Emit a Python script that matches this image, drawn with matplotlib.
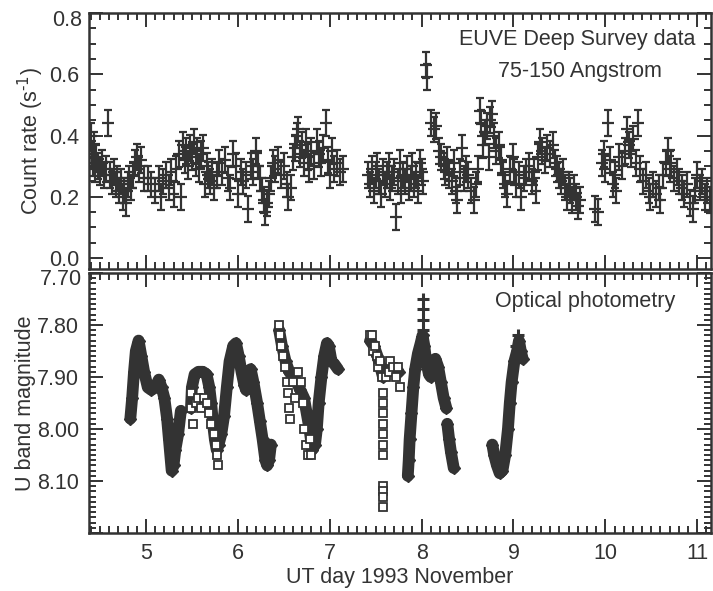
"""
EUVE count rate and U band light curve, 1993 November
"""

import matplotlib
matplotlib.use("Agg")
import matplotlib.pyplot as plt
import matplotlib.transforms as mtransforms
from matplotlib.ticker import MultipleLocator, NullFormatter, FuncFormatter

plt.rcParams["font.family"] = ["Liberation Sans", "DejaVu Sans"]

# EUVE deep survey, 75-150 A (day, count rate)
euve_day = [
    4.40, 4.41, 4.42, 4.43, 4.45, 4.46, 4.48, 4.50, 4.52, 4.54, 4.57, 4.59,
    4.61, 4.63, 4.65, 4.67, 4.69, 4.71, 4.73, 4.75, 4.76, 4.78, 4.80, 4.82,
    4.84, 4.86, 4.88, 4.90, 4.92, 4.95, 4.98, 5.02, 5.06, 5.10, 5.14, 5.16,
    5.19, 5.22, 5.25, 5.27, 5.30, 5.33, 5.36, 5.38, 5.40, 5.42, 5.44, 5.46,
    5.48, 5.50, 5.52, 5.54, 5.56, 5.58, 5.60, 5.62, 5.64, 5.66, 5.68, 5.70,
    5.72, 5.74, 5.77, 5.80, 5.83, 5.86, 5.89, 5.92, 5.95, 5.98, 6.00, 6.03,
    6.06, 6.09, 6.11, 6.14, 6.17, 6.20, 6.22, 6.24, 6.26, 6.28, 6.30, 6.32,
    6.34, 6.36, 6.38, 6.41, 6.44, 6.47, 6.50, 6.53, 6.55, 6.58, 6.60, 6.62,
    6.64, 6.66, 6.68, 6.70, 6.72, 6.74, 6.76, 6.78, 6.80, 6.83, 6.86, 6.88,
    6.90, 6.93, 6.96, 6.98, 7.00, 7.03, 7.05, 7.08, 7.11, 7.14,
    7.42, 7.44, 7.46, 7.48, 7.50, 7.52, 7.54, 7.56, 7.58, 7.60, 7.62, 7.64,
    7.66, 7.68, 7.70, 7.72, 7.74, 7.76, 7.78, 7.80, 7.82, 7.84, 7.86, 7.88,
    7.90, 7.92, 7.94, 7.96, 7.98, 8.00, 8.02, 8.05, 8.06, 8.10, 8.13, 8.16,
    8.19, 8.21, 8.24, 8.26, 8.28, 8.30, 8.33, 8.35, 8.37, 8.39, 8.42, 8.44,
    8.46, 8.48, 8.51, 8.54, 8.57, 8.59, 8.61, 8.64, 8.65, 8.67, 8.69, 8.71,
    8.73, 8.75, 8.77, 8.79, 8.81, 8.84, 8.86, 8.89, 8.91, 8.93, 8.96, 8.99,
    9.01, 9.03, 9.06, 9.08, 9.11, 9.14, 9.17, 9.20, 9.22, 9.24, 9.27, 9.29,
    9.31, 9.34, 9.37, 9.40, 9.43, 9.45, 9.47, 9.50, 9.52, 9.54, 9.56, 9.58,
    9.60, 9.62, 9.64, 9.66, 9.68, 9.70, 9.72,
    9.89, 9.92, 9.96, 9.98, 10.00, 10.03, 10.05, 10.08, 10.10, 10.12, 10.15,
    10.18, 10.21, 10.24, 10.26, 10.28, 10.30, 10.33, 10.36, 10.38, 10.41,
    10.44, 10.47, 10.49, 10.52, 10.55, 10.58, 10.60, 10.63, 10.66, 10.68,
    10.70, 10.72, 10.75, 10.78, 10.80, 10.83, 10.86, 10.89, 10.92, 10.95,
    10.98, 11.00, 11.03, 11.05, 11.08, 11.11, 11.14,
]
euve_rate = [
    0.40, 0.34, 0.31, 0.37, 0.29, 0.33, 0.30, 0.28, 0.31, 0.27, 0.29, 0.44,
    0.27, 0.25, 0.28, 0.24, 0.26, 0.22, 0.25, 0.20, 0.22, 0.18, 0.24, 0.26,
    0.23, 0.27, 0.31, 0.33, 0.29, 0.32, 0.26, 0.26, 0.24, 0.22, 0.26, 0.20,
    0.25, 0.27, 0.23, 0.28, 0.21, 0.29, 0.34, 0.20, 0.37, 0.32, 0.35, 0.30,
    0.36, 0.33, 0.38, 0.31, 0.35, 0.29, 0.34, 0.36, 0.24, 0.30, 0.27, 0.25,
    0.28, 0.23, 0.27, 0.31, 0.28, 0.32, 0.26, 0.23, 0.34, 0.30, 0.21, 0.28,
    0.25, 0.27, 0.16, 0.30, 0.28, 0.35, 0.30, 0.26, 0.22, 0.19, 0.15, 0.18,
    0.21, 0.26, 0.31, 0.29, 0.32, 0.27, 0.30, 0.24, 0.20, 0.23, 0.33, 0.36,
    0.40, 0.42, 0.34, 0.37, 0.31, 0.38, 0.33, 0.29, 0.35, 0.30, 0.38, 0.34,
    0.31, 0.36, 0.44, 0.32, 0.27, 0.35, 0.29, 0.31, 0.28, 0.29,
    0.27, 0.24, 0.29, 0.22, 0.27, 0.30, 0.25, 0.21, 0.28, 0.24, 0.27, 0.30,
    0.23, 0.26, 0.28, 0.135, 0.25, 0.31, 0.22, 0.27, 0.25, 0.29, 0.23, 0.26,
    0.30, 0.24, 0.27, 0.22, 0.31, 0.28, 0.25, 0.63, 0.59, 0.44, 0.42, 0.43,
    0.35, 0.33, 0.30, 0.28, 0.32, 0.27, 0.25, 0.31, 0.22, 0.19, 0.28, 0.36,
    0.26, 0.29, 0.27, 0.22, 0.19, 0.24, 0.29, 0.48, 0.44, 0.37, 0.41, 0.43,
    0.33, 0.45, 0.47, 0.40, 0.35, 0.37, 0.32, 0.27, 0.24, 0.21, 0.29, 0.33,
    0.28, 0.24, 0.27, 0.20, 0.26, 0.28, 0.30, 0.25, 0.28, 0.22, 0.33, 0.38,
    0.35, 0.32, 0.36, 0.34, 0.37, 0.31, 0.29, 0.27, 0.25, 0.28, 0.23, 0.20,
    0.24, 0.22, 0.19, 0.23, 0.20, 0.17, 0.19,
    0.16, 0.15, 0.31, 0.34, 0.29, 0.44, 0.32, 0.24, 0.27, 0.22, 0.33,
    0.30, 0.35, 0.42, 0.37, 0.34, 0.39, 0.31, 0.44, 0.29, 0.25,
    0.27, 0.22, 0.20, 0.24, 0.21, 0.23, 0.19, 0.27, 0.31, 0.35,
    0.29, 0.31, 0.26, 0.28, 0.25, 0.23, 0.21, 0.24, 0.18, 0.16,
    0.22, 0.27, 0.23, 0.25, 0.20, 0.22, 0.19,
]

# optical U band light curve, one list per observing run (day, mag)
opt_runs = [
    ([4.83, 4.85, 4.87, 4.89, 4.92, 4.95, 4.98, 5.02, 5.06, 5.10, 5.14, 5.17,
      5.20, 5.23, 5.25, 5.27, 5.28, 5.30, 5.32, 5.35, 5.38],
     [7.98, 7.94, 7.89, 7.85, 7.83, 7.86, 7.89, 7.92, 7.925, 7.92, 7.905, 7.92,
      7.94, 7.98, 8.02, 8.06, 8.08, 8.07, 8.04, 8.01, 7.965]),
    ([5.49, 5.50, 5.53, 5.57, 5.62, 5.66, 5.69, 5.71, 5.73, 5.75, 5.77, 5.79,
      5.82, 5.85, 5.88, 5.91, 5.95, 5.98, 6.01, 6.04, 6.07, 6.09, 6.12, 6.14,
      6.17, 6.21, 6.24, 6.27, 6.30, 6.32, 6.34, 6.36],
     [7.96, 7.92, 7.895, 7.89, 7.89, 7.895, 7.92, 7.95, 7.99, 8.02, 8.04, 8.03,
      8.01, 7.975, 7.92, 7.87, 7.84, 7.835, 7.86, 7.89, 7.915, 7.925, 7.89, 7.885,
      7.91, 7.95, 7.985, 8.02, 8.06, 8.07, 8.06, 8.03]),
    ([6.45, 6.48, 6.52, 6.56, 6.60, 6.64, 6.68, 6.72, 6.75, 6.78, 6.81, 6.84,
      6.86, 6.88, 6.91, 6.94, 6.97, 6.99, 7.02, 7.05, 7.09],
     [7.81, 7.84, 7.87, 7.89, 7.90, 7.91, 7.925, 7.94, 7.97, 8.00, 8.04, 8.03,
      8.00, 7.95, 7.90, 7.86, 7.835, 7.84, 7.87, 7.875, 7.885]),
    ([7.44, 7.48, 7.52, 7.55, 7.58, 7.62, 7.66, 7.70, 7.75],
     [7.83, 7.84, 7.86, 7.88, 7.90, 7.89, 7.88, 7.89, 7.89]),
    ([7.85, 7.86, 7.87, 7.89, 7.91, 7.93, 7.96, 7.99, 8.01, 8.03, 8.05, 8.08,
      8.10, 8.13, 8.15, 8.18, 8.21, 8.24, 8.27],
     [8.09, 8.06, 8.02, 7.97, 7.92, 7.885, 7.855, 7.835, 7.82, 7.84, 7.87, 7.895,
      7.90, 7.87, 7.865, 7.88, 7.91, 7.94, 7.96]),
    ([8.28, 8.30, 8.32, 8.35],
     [7.99, 8.02, 8.045, 8.075]),
    ([8.77, 8.79, 8.82, 8.85, 8.88, 8.91, 8.94, 8.96, 8.98, 9.01, 9.04, 9.06,
      9.08, 9.10],
     [8.03, 8.05, 8.07, 8.085, 8.08, 8.05, 8.00, 7.95, 7.91, 7.87, 7.85, 7.83,
      7.85, 7.865]),
]

# open-square points
sq_day = [
    5.49, 5.49, 5.51, 5.55, 5.57, 5.60, 5.63, 5.66, 5.69, 5.71, 5.74, 5.76,
    5.77, 5.78,
    6.45, 6.46, 6.47, 6.49, 6.51, 6.53, 6.55, 6.56, 6.57, 6.60, 6.62, 6.66,
    6.69, 6.71, 6.72, 6.74, 6.76, 6.79, 6.80,
    7.44, 7.46, 7.47, 7.49, 7.51, 7.53, 7.55, 7.57, 7.58, 7.58, 7.58, 7.58,
    7.58, 7.58, 7.58, 7.58, 7.58, 7.58, 7.58, 7.61, 7.64, 7.66, 7.69, 7.72,
    7.74, 7.76,
]
sq_mag = [
    7.93, 7.96, 7.99, 7.95, 7.94, 7.96, 7.94, 7.95, 7.97, 7.99, 8.01, 8.03,
    8.05, 8.07,
    7.80, 7.82, 7.84, 7.86, 7.88, 7.91, 7.93, 7.96, 7.98, 7.91, 7.94, 7.89,
    7.91, 7.95, 8.00, 8.03, 8.05, 8.02, 8.05,
    7.82, 7.82, 7.85, 7.84, 7.86, 7.88, 7.87, 7.90, 7.93, 7.95, 7.97, 7.99,
    8.01, 8.03, 8.05, 8.11, 8.12, 8.13, 8.15, 7.90, 7.89, 7.87, 7.88, 7.90,
    7.88, 7.92,
]

# plus-sign points at the peaks
plus_day = [8.02, 8.02, 8.02, 8.02, 9.05, 9.03]
plus_mag = [7.75, 7.77, 7.79, 7.81, 7.82, 7.84]

ink = "#333333"
fs = 15.5

fig = plt.figure(figsize=(7.13, 5.91), dpi=100)
ax1 = fig.add_axes([0.1248, 0.5448, 0.8724, 0.4332])
ax2 = fig.add_axes([0.1248, 0.0981, 0.8724, 0.4400])

# upper panel
ax1.errorbar(euve_day, euve_rate, yerr=0.042, fmt="none", ecolor=ink,
             elinewidth=1.6, capsize=3.2, capthick=1.6)
ax1.errorbar(euve_day, euve_rate, xerr=0.065, fmt="none", ecolor=ink,
             elinewidth=1.6, capsize=0)
ax1.set_ylim(-0.036, 0.8)
ax1.yaxis.set_major_locator(MultipleLocator(0.2))
ax1.yaxis.set_minor_locator(MultipleLocator(0.05))
ax1.yaxis.set_major_formatter(
    FuncFormatter(lambda v, p: "" if v > 0.79 else "%.1f" % abs(v)))
ax1.set_ylabel(r"Count rate (s$^{\text{-}1}$)", fontsize=fs, color=ink,
               labelpad=2)
ax1.xaxis.set_major_formatter(NullFormatter())
ax1.text(0.975, 0.895, "EUVE Deep Survey data", transform=ax1.transAxes,
         ha="right", va="center", fontsize=fs, color=ink)
ax1.text(0.79, 0.77, "75-150 Angstrom", transform=ax1.transAxes,
         ha="center", va="center", fontsize=fs, color=ink)

# lower panel
for days, mags in opt_runs:
    ax2.plot(days, mags, color=ink, lw=8.5, solid_capstyle="round",
             solid_joinstyle="round", marker="D", ms=6, mfc=ink, mec=ink)
ax2.plot(sq_day, sq_mag, ls="none", marker="s", ms=5.5, mfc="white",
         mec=ink, mew=1.3)
ax2.plot(plus_day, plus_mag, ls="none", marker="+", ms=8, mew=2.2, color=ink)
ax2.set_ylim(8.20, 7.70)
ax2.yaxis.set_major_locator(MultipleLocator(0.1))
ax2.yaxis.set_minor_locator(MultipleLocator(0.01))
ax2.yaxis.set_major_formatter(
    FuncFormatter(lambda v, p: "" if (v < 7.71 or v > 8.15) else "%.2f" % v))
ax2.set_ylabel("U band magnitude", fontsize=fs, color=ink, labelpad=1)
ax2.set_xlabel("UT day 1993 November", fontsize=fs, color=ink, labelpad=2)
ax2.text(0.797, 0.892, "Optical photometry", transform=ax2.transAxes,
         ha="center", va="center", fontsize=fs, color=ink)

# edge labels nudged down like the original layout
for ax, val, txt in ((ax1, 0.8, "0.8"), (ax2, 7.70, "7.70")):
    base = mtransforms.blended_transform_factory(ax.transAxes, ax.transData)
    tr = mtransforms.offset_copy(base, fig=fig, x=-7, y=-7, units="dots")
    ax.text(0, val, txt, transform=tr, ha="right", va="center",
            fontsize=fs, color=ink)

for ax in (ax1, ax2):
    ax.set_xlim(4.38, 11.15)
    ax.xaxis.set_major_locator(MultipleLocator(1))
    ax.xaxis.set_minor_locator(MultipleLocator(0.1))
    ax.tick_params(which="both", direction="in", top=True, right=True,
                   width=1.4, colors=ink, labelsize=fs)
    ax.tick_params(which="major", length=10, pad=7)
    ax.tick_params(which="minor", length=5)
    for s in ax.spines.values():
        s.set_linewidth(1.8)
        s.set_color(ink)

fig.savefig("out.png", dpi=100)
